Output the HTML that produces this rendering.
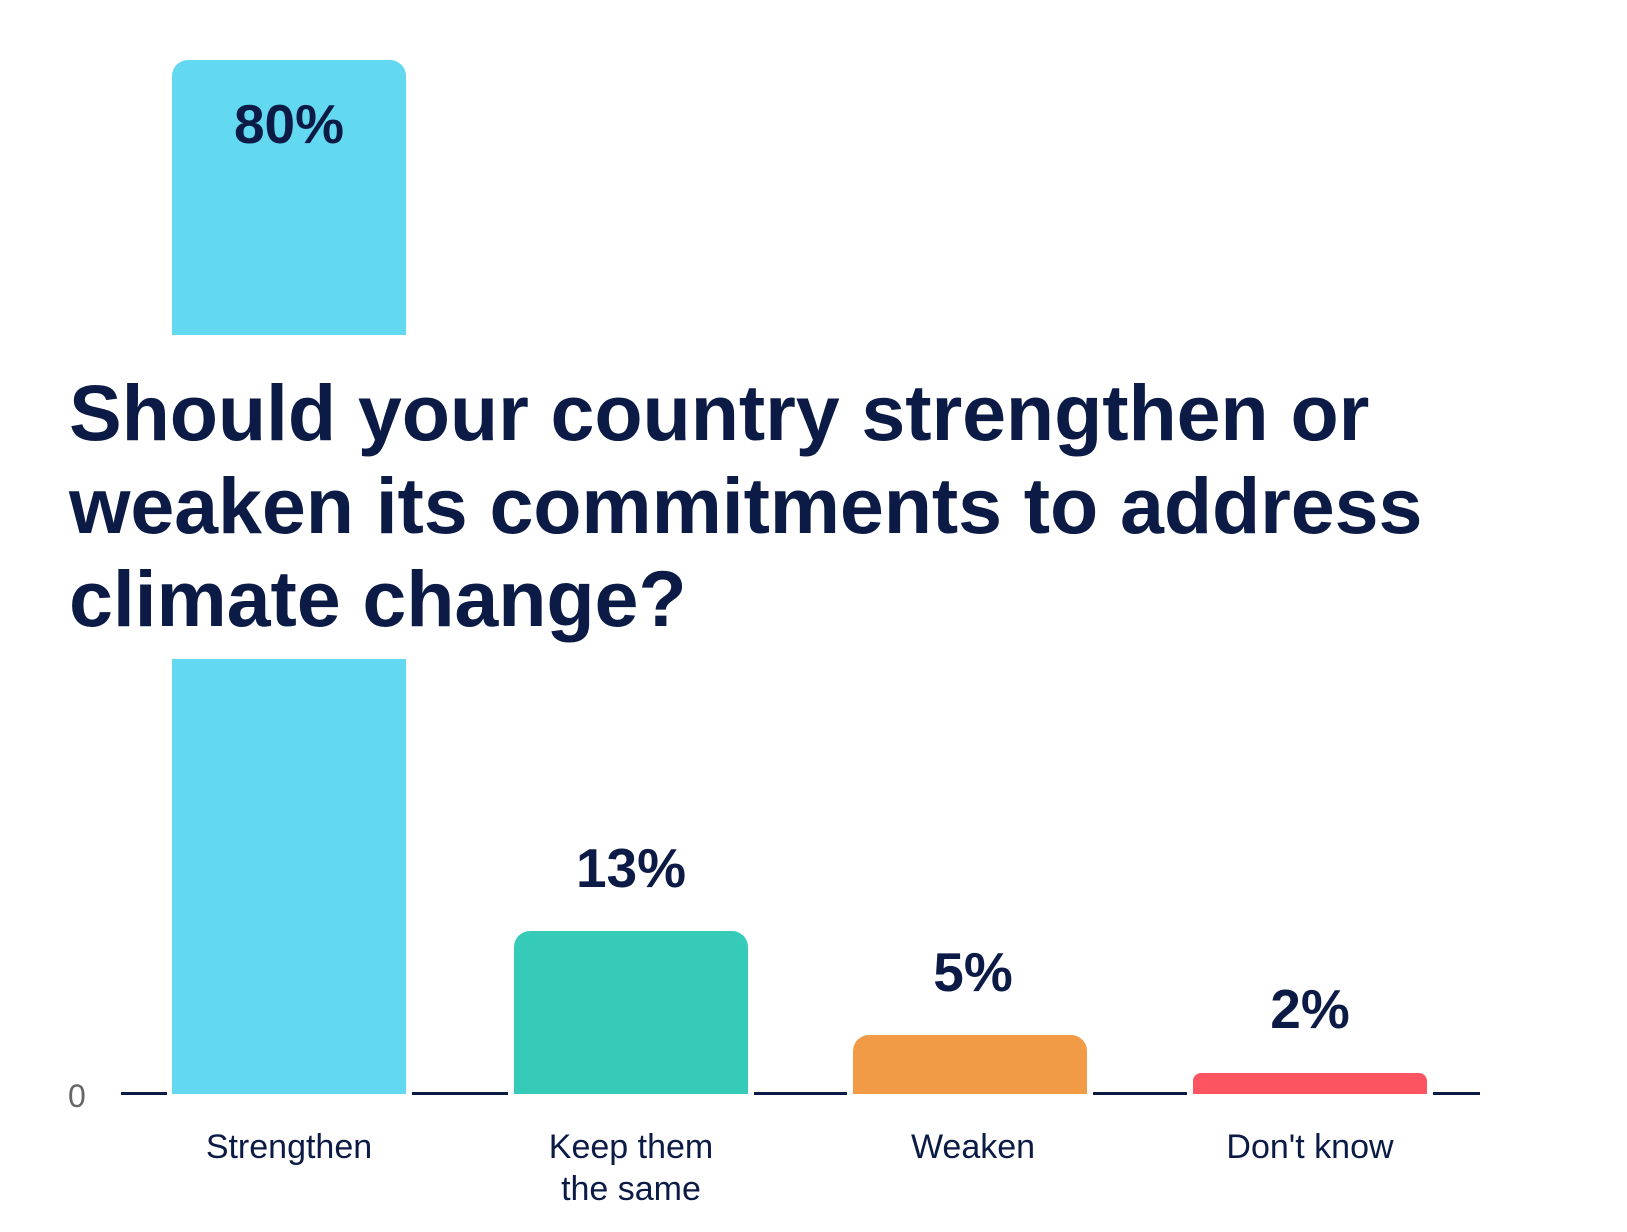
<!DOCTYPE html>
<html><head><meta charset="utf-8"><style>
html,body{margin:0;padding:0;background:#fff;}
body{width:1627px;height:1232px;position:relative;overflow:hidden;font-family:"Liberation Sans",Arial,sans-serif;color:#0b1b45;}
.bar{position:absolute;}
.ax{position:absolute;height:3px;background:#0b1b45;top:1092px;}
.v{position:absolute;font-weight:bold;font-size:55px;text-align:center;width:300px;line-height:1;}
.c{position:absolute;font-size:34px;text-align:center;width:300px;line-height:42px;}
.t{position:absolute;left:69px;top:366px;font-weight:bold;font-size:79px;line-height:93px;white-space:nowrap;letter-spacing:-0.1px;}
</style></head><body>
<div class="bar" style="left:172px;top:60px;width:234px;height:275px;background:#62d9f0;border-radius:16px 16px 0 0"></div>
<div class="bar" style="left:172px;top:659px;width:234px;height:435px;background:#62d9f0"></div>
<div class="bar" style="left:514px;top:931px;width:234px;height:163px;background:#35cbb8;border-radius:16px 16px 0 0"></div>
<div class="bar" style="left:853px;top:1035px;width:234px;height:59px;background:#f19b47;border-radius:16px 16px 0 0"></div>
<div class="bar" style="left:1193px;top:1073px;width:234px;height:21px;background:#fc5561;border-radius:8px 8px 0 0"></div>
<div class="ax" style="left:121px;width:46px"></div>
<div class="ax" style="left:412px;width:96px"></div>
<div class="ax" style="left:754px;width:93px"></div>
<div class="ax" style="left:1093px;width:94px"></div>
<div class="ax" style="left:1433px;width:47px"></div>
<div style="position:absolute;left:68px;top:1080px;font-size:32px;color:#666;line-height:1">0</div>
<div class="v" style="left:139px;top:97px">80%</div>
<div class="v" style="left:481px;top:841px">13%</div>
<div class="v" style="left:823px;top:945px">5%</div>
<div class="v" style="left:1160px;top:982px">2%</div>
<div class="t">Should your country strengthen or<br>weaken its commitments to address<br>climate change?</div>
<div class="c" style="left:139px;top:1126px">Strengthen</div>
<div class="c" style="left:481px;top:1126px">Keep them<br>the same</div>
<div class="c" style="left:823px;top:1126px">Weaken</div>
<div class="c" style="left:1160px;top:1126px">Don't know</div>
</body></html>
